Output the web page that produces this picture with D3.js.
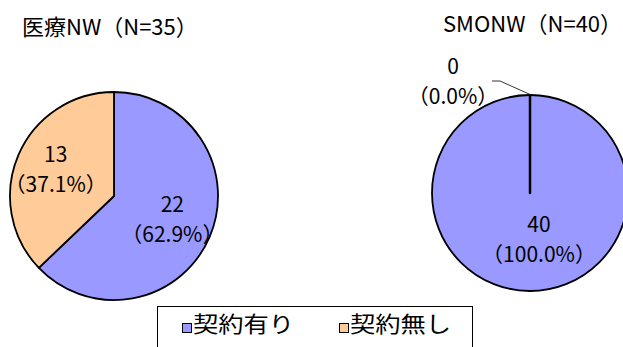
<!DOCTYPE html>
<html>
<head>
<meta charset="utf-8">
<script src="https://cdn.jsdelivr.net/npm/d3@7"></script>
<style>
  body { margin: 0; background: #fff; }
  svg text { font-family: "Noto Sans CJK JP", sans-serif; fill: #000; }
</style>
</head>
<body>
<div id="chart"></div>
<script>
// chart data
const categories = ["契約有り", "契約無し"];
const colors = ["#9999FF", "#FFCC99"];
const titles = ["医療NW（N=35）", "SMONW（N=40）"];
const iryoValues = [22, 13];
const smonValues = [40, 0];

const width = 623, height = 347;

const svg = d3.select("#chart")
  .append("svg")
  .attr("width", width)
  .attr("height", height);

const pie = d3.pie().sort(null).value(d => d);
const color = d3.scaleOrdinal().domain(categories).range(colors);

// one pie per network (label radius / dx picked to match excel's placement)
const panels = [
  { title: titles[0], values: iryoValues, cx: 114, cy: 196, r: 104, tx: 22, ty: 35, lr: 0.61, ldx: 0 },
  { title: titles[1], values: smonValues, cx: 530, cy: 193, r: 98, tx: 443, ty: 32, lr: 0.49, ldx: 9 }
];

panels.forEach(p => {
  const total = d3.sum(p.values);
  const arcs = pie(p.values);
  const arc = d3.arc().innerRadius(0).outerRadius(p.r);
  const labelArc = d3.arc().innerRadius(p.r * p.lr).outerRadius(p.r * p.lr);

  svg.append("text")
    .attr("x", p.tx)
    .attr("y", p.ty)
    .style("font-size", "22px")
    .text(p.title);

  const g = svg.append("g").attr("transform", `translate(${p.cx},${p.cy})`);

  g.selectAll("path")
    .data(arcs)
    .join("path")
    .attr("d", arc)
    .attr("fill", (d, i) => color(categories[i]))
    .attr("stroke", "#000")
    .attr("stroke-width", d => d.value === 0 ? 2.5 : 1.8)
    .attr("stroke-linejoin", "round");

  arcs.forEach((d, i) => {
    const pct = (d.value / total * 100).toFixed(1) + "%";
    let x, y;
    if (d.value === 0) {
      // excel puts empty slices outside with a leader line
      const edge = [p.r * Math.sin(d.startAngle), -p.r * Math.cos(d.startAngle)];
      x = edge[0] - 77; y = edge[1] - 12;
      g.append("polyline")
        .attr("points", [[x + 39, y - 2], [x + 47, y - 2], [edge[0] - 1, edge[1] - 1]].join(" "))
        .attr("fill", "none")
        .attr("stroke", "#000")
        .attr("stroke-width", 0.8);
    } else {
      [x, y] = labelArc.centroid(d);
      x += p.ldx;
    }
    const t = g.append("text")
      .attr("text-anchor", "middle")
      .style("font-size", "21px");
    t.append("tspan").attr("x", x).attr("y", y - 9).text(d.value);
    t.append("tspan").attr("x", x).attr("y", y + 21).text("（" + pct + "）");
  });
});

// legend
const legend = svg.append("g");
legend.append("rect")
  .attr("x", 157.5).attr("y", 306.5)
  .attr("width", 315).attr("height", 60)
  .attr("fill", "#fff")
  .attr("stroke", "#000")
  .attr("stroke-width", 1);

const legendX = d3.scalePoint().domain(categories).range([182, 339]);
categories.forEach(c => {
  const lx = legendX(c);
  legend.append("rect")
    .attr("x", lx + 0.5).attr("y", 323.5)
    .attr("width", 9).attr("height", 9)
    .attr("fill", color(c))
    .attr("stroke", "#000")
    .attr("stroke-width", 1);
  legend.append("text")
    .attr("x", lx + 11)
    .attr("y", 332)
    .attr("transform", `translate(${lx + 11},0) scale(1.15,1) translate(${-(lx + 11)},0)`)
    .style("font-size", "22px")
    .text(c);
});
</script>
</body>
</html>
